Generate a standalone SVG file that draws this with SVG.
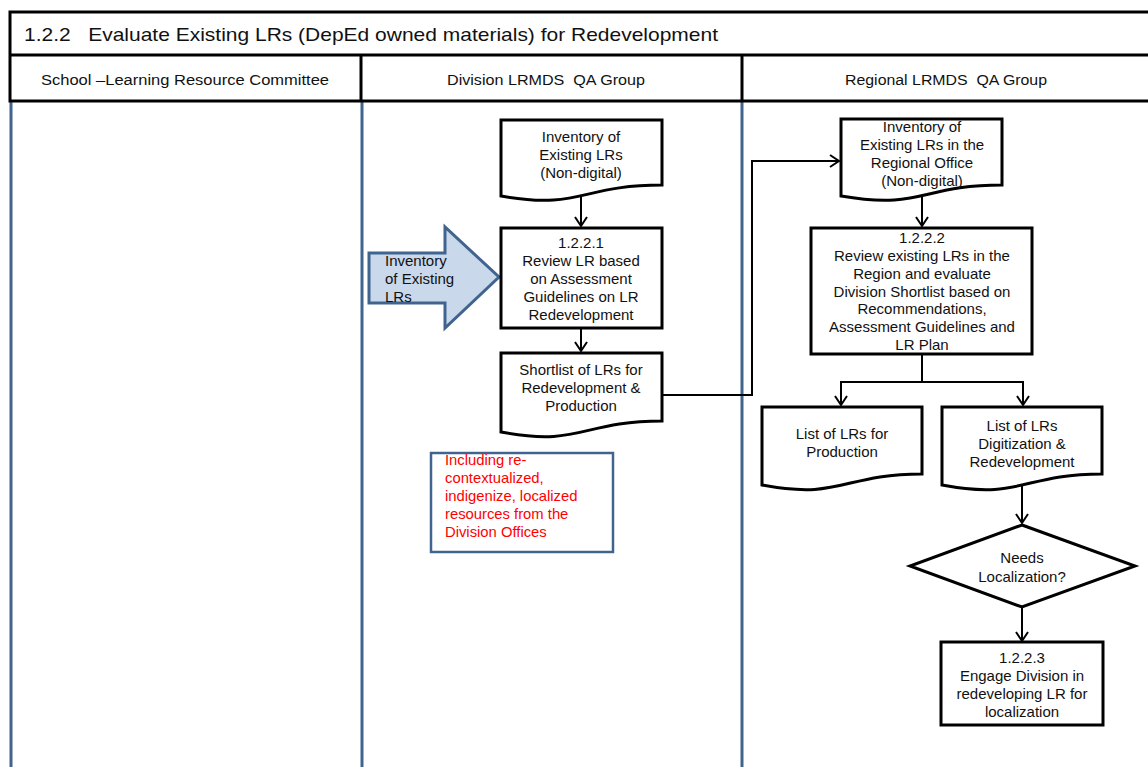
<svg xmlns="http://www.w3.org/2000/svg" width="1148" height="767" viewBox="0 0 1148 767">
<style>
.t{font-family:"Liberation Sans",Arial,sans-serif;font-size:15px;fill:#111;text-anchor:middle}
.hd{font-family:"Liberation Sans",Arial,sans-serif;font-size:14px;fill:#111;text-anchor:middle;white-space:pre}
.red{font-family:"Liberation Sans",Arial,sans-serif;font-size:14.8px;fill:#ff0000}
.shape{fill:#fff;stroke:#000;stroke-width:3}
.conn{fill:none;stroke:#000;stroke-width:2}
.lane{stroke:#41648f;stroke-width:3}
.frame{stroke:#000;stroke-width:3;fill:none}
</style>
<defs>
<marker id="ah" viewBox="0 0 12 14" refX="10" refY="7" markerWidth="12" markerHeight="14" markerUnits="userSpaceOnUse" orient="auto">
<path d="M1,1 L10,7 L1,13" fill="none" stroke="#000" stroke-width="2"/>
</marker>
</defs>
<rect width="1148" height="767" fill="#fff"/>
<g id="lanes">
<line class="lane" x1="11" y1="101" x2="11" y2="767"/>
<line class="lane" x1="362" y1="101" x2="362" y2="767"/>
<line class="lane" x1="742" y1="101" x2="742" y2="767"/>
</g>
<g id="header">
<path class="frame" d="M1150,12 H10 V101 H1150 M10,55 H1150 M361,55 V101 M742,55 V101"/>
<text x="24" y="41" font-family="Liberation Sans,Arial,sans-serif" font-size="18.5" fill="#111" style="white-space:pre" textLength="694" lengthAdjust="spacingAndGlyphs">1.2.2   Evaluate Existing LRs (DepEd owned materials) for Redevelopment</text>
<text class="hd" x="185" y="85" textLength="288" lengthAdjust="spacingAndGlyphs">School –Learning Resource Committee</text>
<text class="hd" x="546" y="85" textLength="198" lengthAdjust="spacingAndGlyphs">Division LRMDS  QA Group</text>
<text class="hd" x="946" y="85" textLength="202" lengthAdjust="spacingAndGlyphs">Regional LRMDS  QA Group</text>
</g>
<g id="connectors">
<path class="conn" d="M581,197 V226" marker-end="url(#ah)"/>
<path class="conn" d="M581,328 V351" marker-end="url(#ah)"/>
<path class="conn" d="M662,395 H752 V161 H839" marker-end="url(#ah)"/>
<path class="conn" d="M922,197 V226" marker-end="url(#ah)"/>
<path class="conn" d="M922,354 V382 H1023 V405" marker-end="url(#ah)"/>
<path class="conn" d="M922,382 H841 V405" marker-end="url(#ah)"/>
<path class="conn" d="M1022,485 V523" marker-end="url(#ah)"/>
<path class="conn" d="M1022,607 V641" marker-end="url(#ah)"/>
</g>
<g id="input-arrow">
<path d="M369,253 H445 V227 L499,277 L445,328 V303 H369 Z" fill="#c9d8ea" stroke="#41648f" stroke-width="3"/>
<text class="t" style="text-anchor:start" x="385" y="266">Inventory</text>
<text class="t" style="text-anchor:start" x="385" y="284">of Existing</text>
<text class="t" style="text-anchor:start" x="385" y="302">LRs</text>
</g>
<g id="doc-inventory-div">
<path class="shape" d="M501,120 H662 V185 C581,185 581,210 501,196 Z"/>
<text class="t" x="581" y="142">Inventory of</text>
<text class="t" x="581" y="160">Existing LRs</text>
<text class="t" x="581" y="178">(Non-digital)</text>
</g>
<g id="proc-1221">
<rect class="shape" x="501" y="228" width="161" height="100"/>
<text class="t" x="581" y="248">1.2.2.1</text>
<text class="t" x="581" y="266">Review LR based</text>
<text class="t" x="581" y="284">on Assessment</text>
<text class="t" x="581" y="302">Guidelines on LR</text>
<text class="t" x="581" y="320">Redevelopment</text>
</g>
<g id="doc-shortlist">
<path class="shape" d="M501,353 H662 V421 C581,421 581,447 501,432 Z"/>
<text class="t" x="581" y="375">Shortlist of LRs for</text>
<text class="t" x="581" y="393">Redevelopment &amp;</text>
<text class="t" x="581" y="411">Production</text>
</g>
<g id="note">
<rect x="431" y="453" width="182" height="99" fill="#fff" stroke="#41648f" stroke-width="2.5"/>
<text class="red" x="445" y="465">Including re-</text>
<text class="red" x="445" y="483">contextualized,</text>
<text class="red" x="445" y="501">indigenize, localized</text>
<text class="red" x="445" y="519">resources from the</text>
<text class="red" x="445" y="537">Division Offices</text>
</g>
<g id="doc-inventory-reg">
<path class="shape" d="M841,119 H1002 V185 C922,185 922,210 841,196 Z"/>
<text class="t" x="922" y="132">Inventory of</text>
<text class="t" x="922" y="150">Existing LRs in the</text>
<text class="t" x="922" y="168">Regional Office</text>
<text class="t" x="922" y="186">(Non-digital)</text>
</g>
<g id="proc-1222">
<rect class="shape" x="811" y="228" width="221" height="126"/>
<text class="t" x="922" y="243">1.2.2.2</text>
<text class="t" x="922" y="261">Review existing LRs in the</text>
<text class="t" x="922" y="279">Region and evaluate</text>
<text class="t" x="922" y="297">Division Shortlist based on</text>
<text class="t" x="922" y="314">Recommendations,</text>
<text class="t" x="922" y="332">Assessment Guidelines and</text>
<text class="t" x="922" y="350">LR Plan</text>
</g>
<g id="doc-production">
<path class="shape" d="M762,407 H922 V474 C842,474 842,500 762,485 Z"/>
<text class="t" x="842" y="439">List of LRs for</text>
<text class="t" x="842" y="457">Production</text>
</g>
<g id="doc-digitization">
<path class="shape" d="M942,407 H1102 V474 C1022,474 1022,500 942,485 Z"/>
<text class="t" x="1022" y="431">List of LRs</text>
<text class="t" x="1022" y="449">Digitization &amp;</text>
<text class="t" x="1022" y="467">Redevelopment</text>
</g>
<g id="decision">
<path class="shape" d="M1022,525 L1135,566 L1022,607 L910,566 Z"/>
<text class="t" x="1022" y="563">Needs</text>
<text class="t" x="1022" y="582">Localization?</text>
</g>
<g id="proc-1223">
<rect class="shape" x="941" y="642" width="162" height="83"/>
<text class="t" x="1022" y="663">1.2.2.3</text>
<text class="t" x="1022" y="681">Engage Division in</text>
<text class="t" x="1022" y="699">redeveloping LR for</text>
<text class="t" x="1022" y="717">localization</text>
</g>
</svg>
